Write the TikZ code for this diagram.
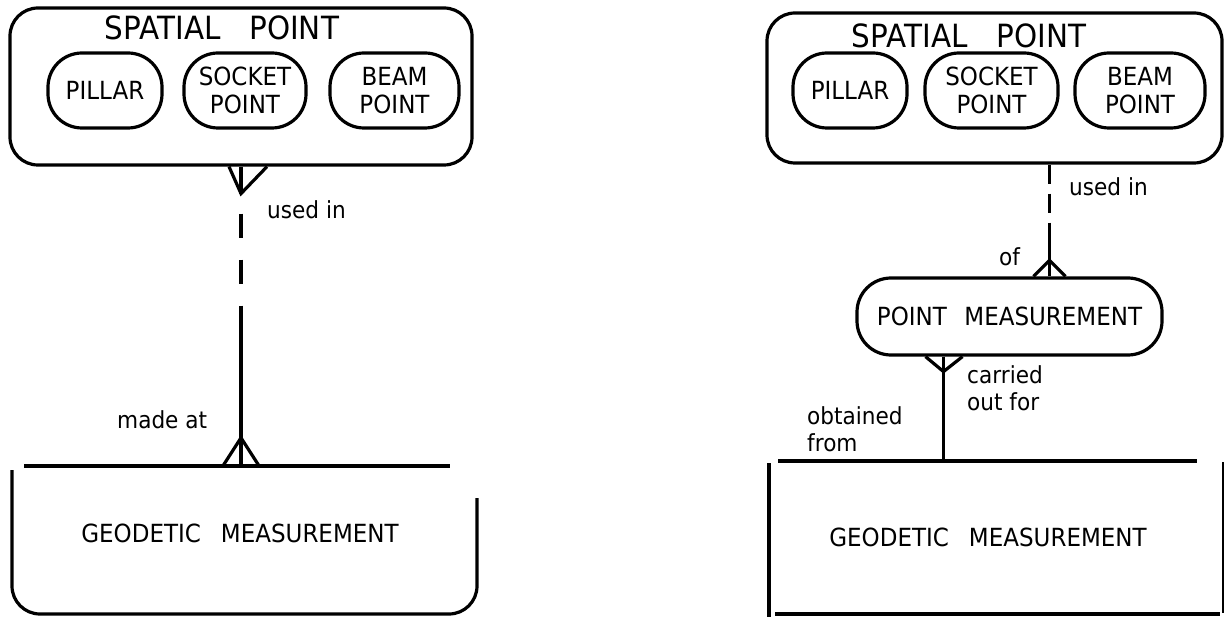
\documentclass[tikz,border=0pt]{standalone}
\usepackage{fontspec}
\setmainfont[FakeStretch=0.92]{DejaVu Sans}
\usetikzlibrary{calc}
\begin{document}
\begin{tikzpicture}[x=1pt,y=-1pt,
  ln/.style={line width=3.2pt},
  lbl/.style={font=\fontsize{23.5}{27}\selectfont, inner sep=0pt},
  entity/.style={draw, ln, rounded corners=28pt, inner sep=0pt},
  titletext/.style={font=\fontsize{32}{36}\selectfont, inner sep=0pt},
  pill/.style={draw, ln, rounded corners=34pt, inner sep=0pt, align=center,
    minimum height=75pt, font=\fontsize{25}{28}\selectfont},
  boxtext/.style={font=\fontsize{25}{28}\selectfont, inner sep=0pt},
  area/.style={draw=none, inner sep=0pt}
]
\useasboundingbox (0,0) rectangle (1225,617);

% ---------------- left: spatial point made at geodetic measurement
\node[entity, minimum width=462pt, minimum height=157pt] (spL) at (241,86.5) {};
\node[titletext] (spLt) at (222,28) {SPATIAL\hspace{0.9em}POINT};
\node[pill, minimum width=114pt] (pilL) at (105,90.5) {PILLAR};
\node[pill, minimum width=122pt] (sockL) at (245,90.5) {SOCKET\\POINT};
\node[pill, minimum width=129pt] (beamL) at (394.5,90.5) {BEAM\\POINT};

\node[area, minimum width=465pt, minimum height=148pt] (geoLbox) at (244.5,540) {};
\node[boxtext] (geoL) at (240,533) {GEODETIC\hspace{0.8em}MEASUREMENT};
\draw[ln] (24,466) -- (450,466);
\draw[ln, rounded corners=28pt] (12,470) -- (12,614) -- (477,614) -- (477,498);

% relationship
\path (spL.south) ++(0,27) coordinate (lV1);
\path (spL.south) ++(0,143) coordinate (lS);
\path (spL.south |- geoLbox.north) coordinate (lBot);
\path (lBot) ++(0,-28) coordinate (lV2);
\draw[ln] ($(spL.south)+(-12,0)$) -- (lV1) -- ($(spL.south)+(26,0)$);
\draw[ln] (spL.south) -- (lV1);
\draw[ln, dash pattern=on 24pt off 22pt, dash phase=26pt] (lV1) -- (lS);
\draw[ln] (lS) -- (lBot);
\draw[ln] ($(lBot)+(-18,0)$) -- (lV2) -- ($(lBot)+(18,0)$);

\node[lbl, anchor=west] (usedL) at (267,210) {used in};
\node[lbl, anchor=west] (madeL) at (117,420) {made at};

% ---------------- right: spatial point, point measurement, geodetic measurement
\node[entity, minimum width=455pt, minimum height=150pt] (spR) at (994.5,88) {};
\node[titletext] (spRt) at (969,36) {SPATIAL\hspace{0.9em}POINT};
\node[pill, minimum width=114pt] (pilR) at (850,90.5) {PILLAR};
\node[pill, minimum width=133pt] (sockR) at (991.5,90.5) {SOCKET\\POINT};
\node[pill, minimum width=130pt] (beamR) at (1140,90.5) {BEAM\\POINT};

\node[pill, minimum width=305pt, minimum height=77pt] (pmR) at (1009.5,316.5)
  {POINT\hspace{0.7em}MEASUREMENT};

\node[area, minimum width=454pt, minimum height=153pt] (geoRbox) at (996,537.5) {};
\node[boxtext] (geoR) at (988,537) {GEODETIC\hspace{0.8em}MEASUREMENT};
\draw[ln] (778,461) -- (1197,461);
\draw[ln] (769,463) -- (769,619);
\draw[ln] (775,614) -- (1220,614);
\draw[line width=2.2pt] (1223,462) -- (1223,613);

% spatial point -- point measurement
\path (pmR.north) ++(40,0) coordinate (rFoot);
\path (rFoot |- spR.south) coordinate (rTop);
\path (rTop) ++(0,60) coordinate (rS);
\path (rFoot) ++(0,-16) coordinate (rV1);
\draw[ln, dash pattern=on 19pt off 10pt] (rTop) -- (rS);
\draw[ln] (rS) -- (rFoot);
\draw[ln] ($(rFoot)+(-16,0)$) -- (rV1) -- ($(rFoot)+(16,0)$);

% point measurement -- geodetic measurement
\path (pmR.south) ++(-66,0) coordinate (rFoot2);
\path (rFoot2) ++(0,15) coordinate (rV2);
\draw[ln] ($(rFoot2)+(-18,0)$) -- (rV2) -- ($(rFoot2)+(19,0)$);
\draw[ln] (rFoot2) -- (rFoot2 |- geoRbox.north);

\node[lbl, anchor=west] (usedR) at (1069,187) {used in};
\node[lbl, anchor=west] (ofR) at (999,257) {of};
\node[lbl, anchor=west, align=left] (carR) at (967,388) {carried\\out for};
\node[lbl, anchor=west, align=left] (obtR) at (807,429) {obtained\\from};
\end{tikzpicture}
\end{document}
